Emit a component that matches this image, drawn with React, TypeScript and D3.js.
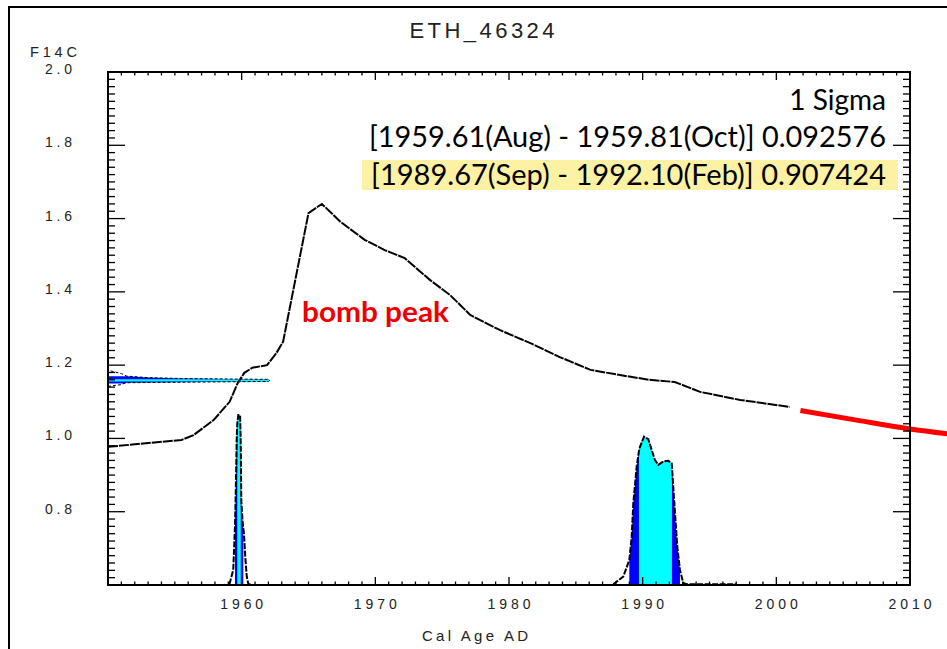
import React from 'react';
import * as d3 from 'd3';

// calibration curve (year, F14C)
const curveYear = [1950.0, 1955.5, 1956.4, 1957.9, 1959.1, 1959.7, 1960.2, 1960.8, 1961.9, 1962.6, 1963.1, 1965.0, 1966.0, 1967.4, 1969.2, 1970.7, 1972.2, 1974.1, 1975.6, 1977.1, 1979.3, 1981.6, 1983.8, 1986.1, 1988.3, 1990.5, 1992.4, 1994.3, 1997.3, 2001.0];
const curveF = [0.977, 0.996, 1.009, 1.050, 1.100, 1.151, 1.179, 1.193, 1.200, 1.233, 1.264, 1.615, 1.640, 1.591, 1.542, 1.514, 1.492, 1.432, 1.391, 1.337, 1.296, 1.260, 1.222, 1.187, 1.173, 1.160, 1.154, 1.127, 1.105, 1.086];

// red extension
const redYear = [2001.8, 2006.0, 2010.0, 2013.0];
const redF = [1.076, 1.050, 1.026, 1.012];

// measured value distribution (drawn horizontally from the y axis)
const measF = [1.142, 1.147, 1.150, 1.152, 1.1555, 1.158, 1.1612, 1.1635, 1.166, 1.170, 1.177, 1.186];
const measYear = [1950.0, 1951.0, 1951.2, 1951.4, 1962.0, 1962.1, 1962.0, 1955.5, 1953.0, 1951.4, 1951.0, 1950.0];
const meas2s = [1.150, 1.170];
const meas1s = [1.1555, 1.1612];

// calendar probability (drawn on the F axis, base 0.6)
const probYear = [1958.0, 1959.07, 1959.37, 1959.50, 1959.55, 1959.63, 1959.67, 1959.75, 1959.88, 1959.93, 1959.97, 1960.08, 1960.12, 1960.17, 1960.27, 1960.38, 1960.50, 1960.75,
  1987.80, 1988.55, 1989.00, 1989.18, 1989.30, 1989.55, 1989.72, 1989.80, 1990.10, 1990.42, 1990.68, 1990.92, 1991.17, 1991.54, 1991.92, 1992.17, 1992.19, 1992.29, 1992.42, 1992.59, 1992.79, 1993.03, 1993.29, 1997.0];
const probF = [0.600, 0.600, 0.641, 0.759, 0.841, 1.000, 1.040, 1.064, 1.064, 0.996, 0.832, 0.768, 0.755, 0.741, 0.677, 0.623, 0.603, 0.600,
  0.602, 0.623, 0.668, 0.732, 0.823, 0.923, 0.965, 0.977, 1.005, 0.998, 0.968, 0.941, 0.928, 0.937, 0.939, 0.932, 0.925, 0.868, 0.796, 0.705, 0.641, 0.606, 0.602, 0.602];
const ranges2s = [[1959.50, 1960.12], [1989.00, 1992.79]];
const ranges1s = [[1959.67, 1959.93], [1989.72, 1992.19]];

const xTickLabels = [1960, 1970, 1980, 1990, 2000, 2010];
const yTickLabels = ['0.8', '1.0', '1.2', '1.4', '1.6', '1.8', '2.0'];

const legendLines = ['1 Sigma', '[1959.61(Aug) - 1959.81(Oct)] 0.092576', '[1989.67(Sep) - 1992.10(Feb)] 0.907424'];

const W = 947;
const H = 649;
const left = 108, right = 910, top = 72, bottom = 585;

export default function App() {
  const x = d3.scaleLinear().domain([1950, 2010]).range([left, right]);
  const y = d3.scaleLinear().domain([0.6, 2.0]).range([bottom, top]);

  const curveLine = d3.line<number>().x((_, i) => x(curveYear[i])).y((_, i) => y(curveF[i]));
  const redLine = d3.line<number>().x((_, i) => x(redYear[i])).y((_, i) => y(redF[i])).curve(d3.curveMonotoneX);

  const probIdx = probYear.map((_, i) => i);
  const probArea = (idx: number[]) =>
    d3.area<number>().x((i) => x(probYear[i])).y0(y(0.6)).y1((i) => y(probF[i]))(idx) || '';
  const inRange = (r: number[]) => probIdx.filter((i) => probYear[i] >= r[0] - 1e-9 && probYear[i] <= r[1] + 1e-9);
  const probLine = d3.line<number>().x((i) => x(probYear[i])).y((i) => y(probF[i]));

  const measIdx = measF.map((_, i) => i);
  const measArea = (r: number[]) =>
    d3.area<number>().y((i) => y(measF[i])).x0(x(1950)).x1((i) => x(measYear[i]))(
      measIdx.filter((i) => measF[i] >= r[0] - 1e-9 && measF[i] <= r[1] + 1e-9)
    ) || '';
  const measLine = d3.line<number>().x((i) => x(measYear[i])).y((i) => y(measF[i]));

  const minorX = d3.range(1950, 2011);
  const minorY = d3.range(0, 71).map((i) => 0.6 + i * 0.02);
  const majorY = d3.range(0, 8).map((i) => 0.6 + i * 0.2);

  const axisFont = '"Liberation Sans", Arial, sans-serif';
  const textFont = "Lato, 'Open Sans', sans-serif";

  return (
    <svg width={W} height={H} style={{ position: 'fixed', left: 0, top: 0, background: '#fff' }}>
      <rect x={0} y={0} width={W} height={H} fill="#fff" />
      {/* outer frame */}
      <path d={`M9,${H} L9,7 L${W},7`} fill="none" stroke="#000" strokeWidth={2} />

      {/* title */}
      <text x={482} y={38} textAnchor="middle" fontFamily={axisFont} fontSize={22} textLength={145} fill="#222">ETH_46324</text>

      {/* highlight */}
      <rect x={362} y={160} width={536} height={30} fill="#fcef8c" opacity={0.8} />

      {/* probability distributions */}
      {ranges2s.map((r, k) => <path key={'b' + k} d={probArea(inRange(r))} fill="#0000ff" />)}
      {ranges1s.map((r, k) => <path key={'c' + k} d={probArea(inRange(r))} fill="#00ffff" />)}
      <path d={probLine(probIdx.slice(0, 18)) || ''} fill="none" stroke="#000" strokeWidth={2} strokeDasharray="6 1.5" />
      <path d={probLine(probIdx.slice(18)) || ''} fill="none" stroke="#000" strokeWidth={2} strokeDasharray="6 1.5" />

      {/* measured value */}
      <path d={measArea(meas2s)} fill="#0000ff" />
      <path d={measArea(meas1s)} fill="#00ffff" />
      <path d={measLine(measIdx) || ''} fill="none" stroke="#000" strokeWidth={1} strokeDasharray="3 2" />

      {/* calibration curve */}
      <path d={curveLine(curveYear) || ''} fill="none" stroke="#000" strokeWidth={2} strokeDasharray="10 1" />

      {/* red line */}
      <path d={redLine(redYear) || ''} fill="none" stroke="#ff0000" strokeWidth={5} />

      {/* plot frame and ticks */}
      <rect x={left} y={top} width={right - left} height={bottom - top} fill="none" stroke="#000" strokeWidth={2} />
      {minorX.map((v) => {
        const major = v % 10 === 0;
        const len = major ? 8 : 3.5;
        return (
          <g key={'xt' + v} stroke="#000" strokeWidth={1.3}>
            <line x1={x(v)} x2={x(v)} y1={bottom} y2={bottom - len} />
            <line x1={x(v)} x2={x(v)} y1={top} y2={top + len} />
          </g>
        );
      })}
      {minorY.map((v, i) => {
        const major = i % 10 === 0;
        const len = major ? 17 : 7;
        return (
          <g key={'yt' + i} stroke="#000" strokeWidth={1.3}>
            <line x1={left} x2={left + len} y1={y(v)} y2={y(v)} />
            <line x1={right} x2={right - len} y1={y(v)} y2={y(v)} />
          </g>
        );
      })}

      {/* tick labels */}
      {xTickLabels.map((v) => (
        <text key={'xl' + v} x={x(v)} y={609} textAnchor="middle" fontFamily={axisFont} fontSize={14} textLength={43} fill="#222">{v}</text>
      ))}
      {yTickLabels.map((s, i) => (
        <text key={'yl' + s} x={72} y={y(majorY[i + 1]) + 2} textAnchor="end" fontFamily={axisFont} fontSize={14} textLength={27} fill="#222">{s}</text>
      ))}
      <text x={30} y={57} fontFamily={axisFont} fontSize={14.5} textLength={47} fill="#222">F14C</text>
      <text x={475} y={641} textAnchor="middle" fontFamily={axisFont} fontSize={15} textLength={106} fill="#222">Cal Age AD</text>

      {/* legend */}
      <text x={886} y={110} textAnchor="end" fontFamily={textFont} fontSize={28} fill="#000">{legendLines[0]}</text>
      <text x={886} y={147} textAnchor="end" fontFamily={textFont} fontSize={28} textLength={517} lengthAdjust="spacingAndGlyphs" fill="#000">{legendLines[1]}</text>
      <text x={886} y={185} textAnchor="end" fontFamily={textFont} fontSize={28} textLength={515} lengthAdjust="spacingAndGlyphs" fill="#000">{legendLines[2]}</text>

      <text x={302} y={322} fontFamily={textFont} fontWeight="bold" fontSize={28} textLength={147} lengthAdjust="spacingAndGlyphs" fill="#ee0000">bomb peak</text>
    </svg>
  );
}
